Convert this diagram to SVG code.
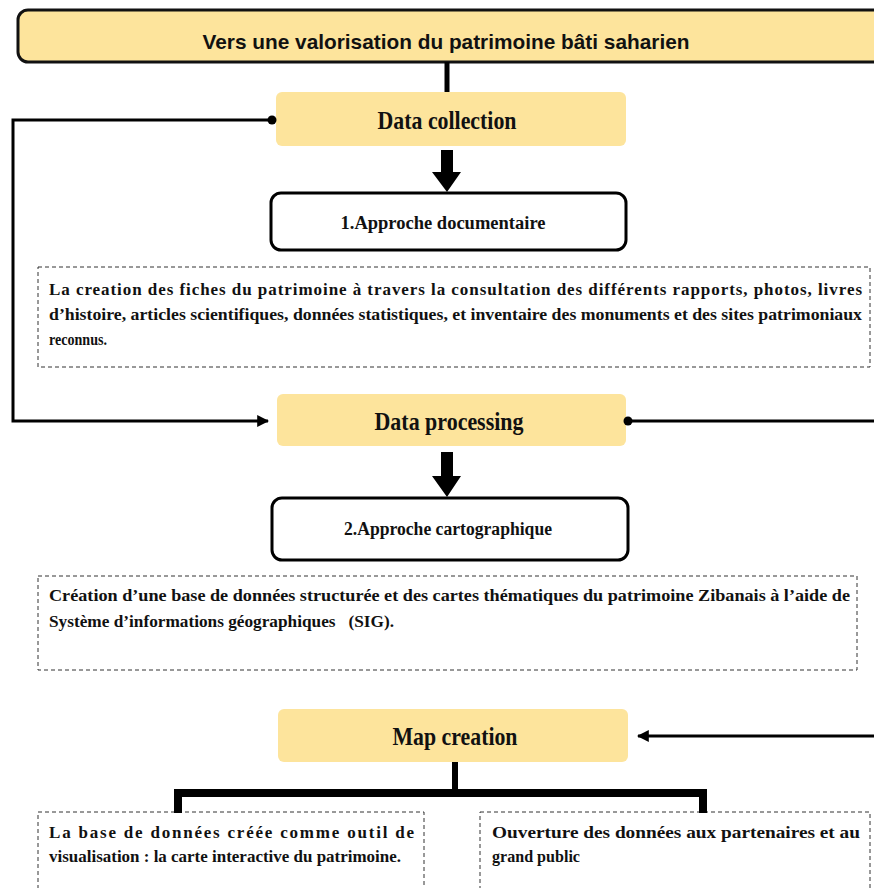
<svg xmlns="http://www.w3.org/2000/svg" width="874" height="888" viewBox="0 0 874 888">
<defs>
<style>
.yel{fill:#FDE49C;}
.ttl{font-family:"Liberation Serif","Times New Roman",serif;font-weight:bold;font-size:25px;fill:#111;text-anchor:middle;}
.sub{font-family:"Liberation Serif","Times New Roman",serif;font-weight:bold;font-size:18px;fill:#111;text-anchor:middle;}
.body{font-family:"Liberation Serif","Times New Roman",serif;font-weight:bold;font-size:17px;fill:#111;}
.dash{fill:#fff;stroke:#333;stroke-width:1;stroke-dasharray:4 3;}
.conn{fill:none;stroke:#000;stroke-width:3;}
.thick{fill:none;stroke:#000;}
</style>
<marker id="ah" viewBox="0 0 10 10" refX="9" refY="5" markerWidth="4" markerHeight="4" orient="auto" markerUnits="strokeWidth">
<path d="M0,0 L10,5 L0,10 z" fill="#000"/>
</marker>
</defs>
<rect width="874" height="888" fill="#fff"/>

<g id="title">
<rect x="18" y="10" width="880" height="52" rx="10" fill="#FDE49C" stroke="#111" stroke-width="3"/>
<text x="446" y="49" style="font-family:'Liberation Sans',Arial,sans-serif;font-weight:bold;font-size:21px;fill:#111;text-anchor:middle;" textLength="487" lengthAdjust="spacingAndGlyphs">Vers une valorisation du patrimoine bâti saharien</text>
</g>

<g id="data-collection">
<rect class="yel" x="276" y="92" width="350" height="54" rx="6"/>
<text class="ttl" x="447" y="129" textLength="139" lengthAdjust="spacingAndGlyphs">Data collection</text>
</g>

<g id="approche-documentaire">
<rect x="271" y="193" width="355" height="57" rx="10" fill="#fff" stroke="#000" stroke-width="3"/>
<text class="sub" x="443" y="229" textLength="205" lengthAdjust="spacingAndGlyphs">1.Approche documentaire</text>
</g>

<g id="desc-documentaire">
<rect class="dash" x="38" y="267" width="832" height="100"/>
<text class="body" x="49" y="295" textLength="813" lengthAdjust="spacing">La creation des fiches du patrimoine à travers la consultation des différents rapports, photos, livres</text>
<text class="body" x="49" y="320" textLength="813" lengthAdjust="spacingAndGlyphs">d’histoire, articles scientifiques, données statistiques, et inventaire des monuments et des sites patrimoniaux</text>
<text class="body" x="49" y="345" textLength="58" lengthAdjust="spacingAndGlyphs">reconnus.</text>
</g>

<g id="data-processing">
<rect class="yel" x="277" y="394" width="349" height="52" rx="6"/>
<text class="ttl" x="449" y="430" textLength="149" lengthAdjust="spacingAndGlyphs">Data processing</text>
</g>

<g id="approche-cartographique">
<rect x="272" y="498" width="356" height="62" rx="10" fill="#fff" stroke="#000" stroke-width="3"/>
<text class="sub" x="448" y="535" textLength="208" lengthAdjust="spacingAndGlyphs">2.Approche cartographique</text>
</g>

<g id="desc-cartographique">
<rect class="dash" x="38" y="576" width="819" height="94"/>
<text class="body" x="49" y="601" textLength="801" lengthAdjust="spacingAndGlyphs">Création d’une base de données structurée et des cartes thématiques du patrimoine Zibanais à l’aide de</text>
<text class="body" x="49" y="627" textLength="345" lengthAdjust="spacingAndGlyphs" xml:space="preserve">Système d’informations géographiques   (SIG).</text>
</g>

<g id="map-creation">
<rect class="yel" x="278" y="709" width="350" height="53" rx="6"/>
<text class="ttl" x="455" y="745" textLength="125" lengthAdjust="spacingAndGlyphs">Map creation</text>
</g>

<g id="carte-interactive">
<rect class="dash" x="38" y="812" width="386" height="90"/>
<text class="body" x="49" y="838" textLength="365" lengthAdjust="spacing">La base de données créée comme outil de</text>
<text class="body" x="49" y="862" textLength="352" lengthAdjust="spacingAndGlyphs">visualisation : la carte interactive du patrimoine.</text>
</g>

<g id="ouverture">
<rect class="dash" x="480" y="812" width="390" height="90"/>
<text class="body" x="492" y="838" textLength="368" lengthAdjust="spacingAndGlyphs">Ouverture des données aux partenaires et au</text>
<text class="body" x="492" y="862" textLength="88" lengthAdjust="spacingAndGlyphs">grand public</text>
</g>

<g id="connectors">
<line class="thick" x1="447" y1="62" x2="447" y2="92" stroke-width="5"/>
<polyline class="conn" points="272,120 13,120 13,421 268,421" marker-end="url(#ah)"/>
<circle cx="272" cy="120" r="4.5" fill="#000"/>
<path d="M441,150 H453 V172 H461 L447,192 L432,172 H441 Z" fill="#000"/>
<path d="M441,452 H453 V476 H461 L447,497 L432,476 H441 Z" fill="#000"/>
<line class="conn" x1="628" y1="421" x2="880" y2="421"/>
<circle cx="628" cy="421" r="4.5" fill="#000"/>
<line class="conn" x1="880" y1="736" x2="638" y2="736" marker-end="url(#ah)"/>
<line class="thick" x1="455" y1="762" x2="455" y2="792" stroke-width="6"/>
<polyline class="thick" points="178,813 178,793 703,793 703,813" stroke-width="8"/>
</g>
</svg>
